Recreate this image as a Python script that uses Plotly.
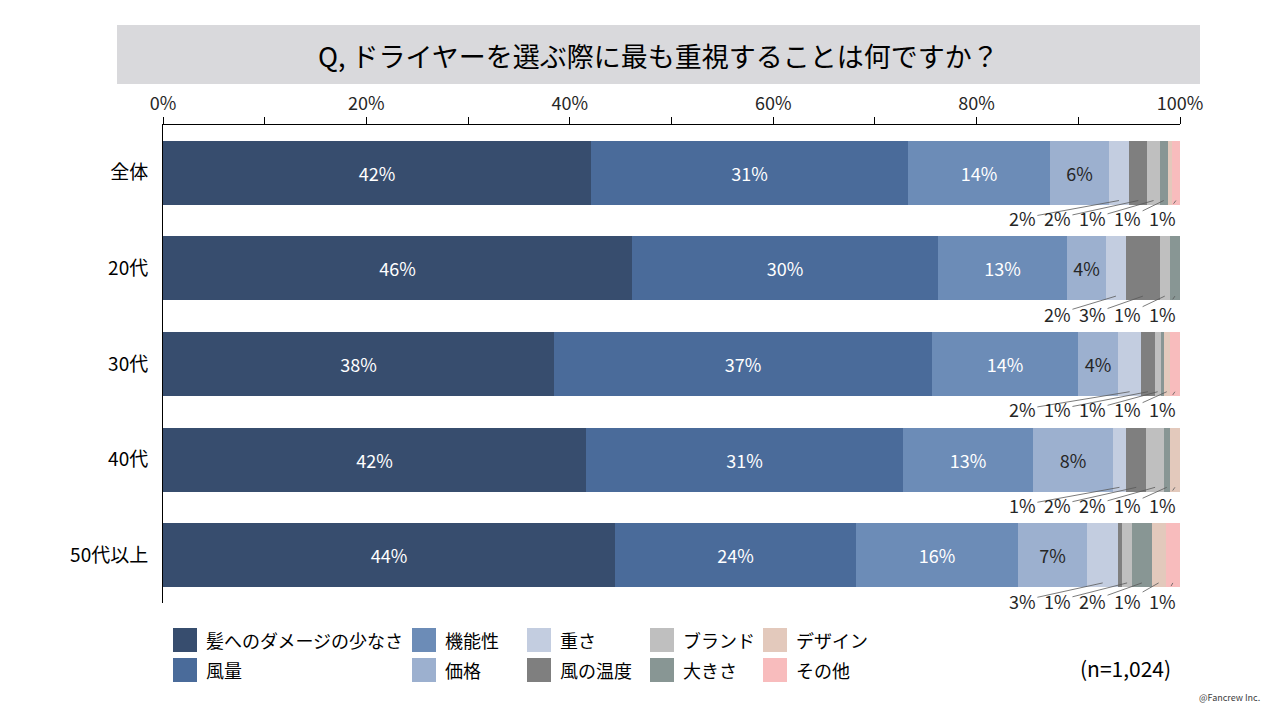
import plotly.graph_objects as go

# ---------------- data ----------------
categories = ["全体", "20代", "30代", "40代", "50代以上"]
series_names = ["髪へのダメージの少なさ", "風量", "機能性", "価格", "重さ",
                "風の温度", "ブランド", "大きさ", "デザイン", "その他"]
hair_damage = [42.1, 46.1, 38.4, 41.6, 44.4]
airflow = [31.2, 30.1, 37.2, 31.2, 23.7]
functionality = [13.9, 12.7, 14.4, 12.7, 16.0]
price = [5.8, 3.8, 3.9, 7.9, 6.8]
weight = [2.0, 2.0, 2.3, 1.3, 3.0]
air_temp = [1.8, 3.3, 1.3, 2.0, 0.4]
brand = [1.2, 1.0, 0.6, 1.7, 1.0]
size = [0.8, 1.0, 0.3, 0.6, 1.9]
design = [0.4, 0.0, 0.6, 1.0, 1.4]
other = [0.8, 0.0, 1.0, 0.0, 1.4]
x_tick_vals = [0, 20, 40, 60, 80, 100]
x_minor_vals = [10, 30, 50, 70, 90]
title_text = "Q, ドライヤーを選ぶ際に最も重視することは何ですか？"
n_text = "(n=1,024)"
credit_text = "@Fancrew Inc."

series_values = [hair_damage, airflow, functionality, price, weight,
                 air_temp, brand, size, design, other]

# ---------------- styles ----------------
colors = ["#374d6e", "#4a6b9a", "#6c8cb7", "#9cb0cf", "#c3cde0",
          "#7f7f7f", "#bfbfbf", "#889694", "#e3c9bc", "#f8bcbd"]
inside_text_colors = ["#ffffff", "#ffffff", "#ffffff", "#262626"]
FONT = "Noto Sans CJK JP, Noto Sans, sans-serif"
TXT = "#262626"

W, H = 1280, 720
L, R, T, B = 163, 100, 125, 117
PW, PH = W - L - R, H - T - B


def px_x(p):
    return (p - L) / PW


def px_y(p):
    return (H - B - p) / PH


y_pos = list(range(len(categories)))
bar_width = 0.67

fig = go.Figure()
for k, (name, vals) in enumerate(zip(series_names, series_values)):
    inside = k < 4
    fig.add_trace(go.Bar(
        name=name, y=y_pos, x=vals, orientation="h", width=bar_width,
        marker=dict(color=colors[k], line=dict(width=0)),
        texttemplate="%{x:.0f}%" if inside else None,
        textposition="inside" if inside else "none",
        insidetextanchor="middle",
        textfont=dict(family=FONT, size=18,
                      color=inside_text_colors[k] if inside else TXT),
        showlegend=False,
        hoverinfo="skip",
    ))

annotations = []
# leader-line labels for the small segments
label_step = 3.45
label_right = 98.3
for i in range(len(categories)):
    start = 0.0
    items = []
    for k, vals in enumerate(series_values):
        v = vals[i]
        if k >= 4 and v >= 0.5:
            items.append((start + v / 2.0, f"{round(v):.0f}%"))
        start += v
    n = len(items)
    for j, (cx, txt) in enumerate(items):
        lx = label_right - label_step * (n - 1 - j)
        annotations.append(dict(
            x=cx, y=i + 0.29, xref="x", yref="y",
            ax=lx, ay=i + 0.475, axref="x", ayref="y",
            text=txt, showarrow=True, arrowhead=0, arrowwidth=0.8,
            arrowcolor="#595959", standoff=0, startstandoff=0,
            font=dict(family=FONT, size=18, color=TXT),
        ))

# title
annotations.append(dict(
    x=px_x(658), y=px_y(55), xref="paper", yref="paper",
    text=title_text, showarrow=False, xanchor="center", yanchor="middle",
    font=dict(family=FONT, size=27, color="#000000"),
))

# custom legend: 5 columns x 2 rows (column-major)
col_left = [173, 412, 527, 650, 763]
row_center = [640, 670]
sw = 24
shapes = [dict(type="rect", xref="paper", yref="paper",
               x0=px_x(117), x1=px_x(1200), y0=px_y(84), y1=px_y(25),
               fillcolor="#d9d9dc", line=dict(width=0), layer="below")]
for k, name in enumerate(series_names):
    c, r = divmod(k, 2)
    x0 = col_left[c]
    yc = row_center[r]
    shapes.append(dict(type="rect", xref="paper", yref="paper",
                       x0=px_x(x0), x1=px_x(x0 + sw),
                       y0=px_y(yc + sw / 2), y1=px_y(yc - sw / 2),
                       fillcolor=colors[k], line=dict(width=0)))
    annotations.append(dict(
        x=px_x(x0 + sw + 7), y=px_y(yc), xref="paper", yref="paper",
        text=name, showarrow=False, xanchor="left", yanchor="middle",
        font=dict(family=FONT, size=18, color="#000000"),
    ))

annotations.append(dict(
    x=px_x(1125), y=px_y(668), xref="paper", yref="paper",
    text=n_text, showarrow=False, xanchor="center", yanchor="middle",
    font=dict(family=FONT, size=21, color="#000000"),
))
annotations.append(dict(
    x=px_x(1262), y=px_y(697), xref="paper", yref="paper",
    text=credit_text, showarrow=False, xanchor="right", yanchor="middle",
    font=dict(family=FONT, size=9, color="#404040"),
))

fig.update_layout(
    width=W, height=H,
    margin=dict(l=L, r=R, t=T, b=B, pad=0),
    barmode="stack", bargap=0,
    paper_bgcolor="#ffffff", plot_bgcolor="#ffffff",
    font=dict(family=FONT, color=TXT),
    xaxis=dict(
        side="top", range=[0, 100], tickvals=x_tick_vals,
        ticktext=[f"{v}%" for v in x_tick_vals],
        ticks="outside", ticklen=7, tickwidth=1, tickcolor="#000000",
        minor=dict(tickvals=x_minor_vals, ticks="outside", ticklen=7,
                   tickwidth=1, tickcolor="#000000"),
        showline=True, linecolor="#000000", linewidth=1,
        showgrid=False, zeroline=False,
        tickfont=dict(family=FONT, size=18, color=TXT),
        fixedrange=True,
    ),
    yaxis=dict(
        range=[len(categories) - 0.5, -0.5], tickvals=y_pos,
        ticktext=categories, ticks="", showline=True,
        linecolor="#000000", linewidth=1, showgrid=False, zeroline=False,
        tickfont=dict(family=FONT, size=19, color="#000000"),
        ticklabelstandoff=10, fixedrange=True,
    ),
    shapes=shapes,
    annotations=annotations,
    showlegend=False,
)

fig.write_html(
    "out.html",
    config={"displayModeBar": False},
    post_script="document.body.style.margin='0px';document.body.style.overflow='hidden';",
)
